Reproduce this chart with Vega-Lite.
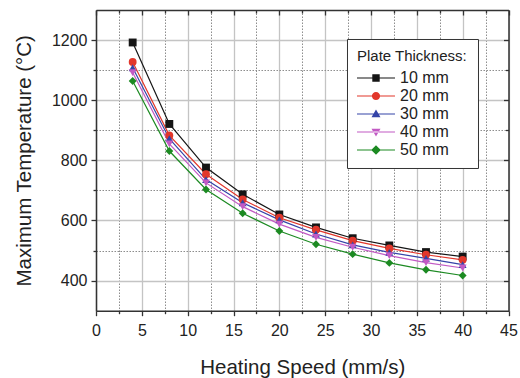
{
  "$schema": "https://vega.github.io/schema/vega-lite/v6.json",
  "width": 412.5,
  "height": 300.7,
  "padding": {"left": 96, "top": 10, "right": 11, "bottom": 67},
  "autosize": {"type": "none"},
  "background": "white",
  "config": {
    "font": "Liberation Sans",
    "view": {"stroke": null},
    "axis": {"labelFont": "Liberation Sans", "titleFont": "Liberation Sans", "titleFontWeight": "normal", "labelColor": "#222222", "titleColor": "#222222"}
  },
  "data": {
    "values": [
      {"speed": 4, "temp": 1192, "thick": "10 mm"}, {"speed": 8, "temp": 921, "thick": "10 mm"}, {"speed": 12, "temp": 776, "thick": "10 mm"}, {"speed": 16, "temp": 687, "thick": "10 mm"}, {"speed": 20, "temp": 620, "thick": "10 mm"}, {"speed": 24, "temp": 577, "thick": "10 mm"}, {"speed": 28, "temp": 541, "thick": "10 mm"}, {"speed": 32, "temp": 517, "thick": "10 mm"}, {"speed": 36, "temp": 495, "thick": "10 mm"}, {"speed": 40, "temp": 480, "thick": "10 mm"},
      {"speed": 4, "temp": 1127, "thick": "20 mm"}, {"speed": 8, "temp": 883, "thick": "20 mm"}, {"speed": 12, "temp": 754, "thick": "20 mm"}, {"speed": 16, "temp": 670, "thick": "20 mm"}, {"speed": 20, "temp": 609, "thick": "20 mm"}, {"speed": 24, "temp": 569, "thick": "20 mm"}, {"speed": 28, "temp": 533, "thick": "20 mm"}, {"speed": 32, "temp": 507, "thick": "20 mm"}, {"speed": 36, "temp": 486, "thick": "20 mm"}, {"speed": 40, "temp": 469, "thick": "20 mm"},
      {"speed": 4, "temp": 1108, "thick": "30 mm"}, {"speed": 8, "temp": 872, "thick": "30 mm"}, {"speed": 12, "temp": 736, "thick": "30 mm"}, {"speed": 16, "temp": 659, "thick": "30 mm"}, {"speed": 20, "temp": 602, "thick": "30 mm"}, {"speed": 24, "temp": 555, "thick": "30 mm"}, {"speed": 28, "temp": 519, "thick": "30 mm"}, {"speed": 32, "temp": 494, "thick": "30 mm"}, {"speed": 36, "temp": 474, "thick": "30 mm"}, {"speed": 40, "temp": 453, "thick": "30 mm"},
      {"speed": 4, "temp": 1092, "thick": "40 mm"}, {"speed": 8, "temp": 855, "thick": "40 mm"}, {"speed": 12, "temp": 725, "thick": "40 mm"}, {"speed": 16, "temp": 646, "thick": "40 mm"}, {"speed": 20, "temp": 588, "thick": "40 mm"}, {"speed": 24, "temp": 544, "thick": "40 mm"}, {"speed": 28, "temp": 511, "thick": "40 mm"}, {"speed": 32, "temp": 483, "thick": "40 mm"}, {"speed": 36, "temp": 460, "thick": "40 mm"}, {"speed": 40, "temp": 442, "thick": "40 mm"},
      {"speed": 4, "temp": 1064, "thick": "50 mm"}, {"speed": 8, "temp": 831, "thick": "50 mm"}, {"speed": 12, "temp": 703, "thick": "50 mm"}, {"speed": 16, "temp": 624, "thick": "50 mm"}, {"speed": 20, "temp": 565, "thick": "50 mm"}, {"speed": 24, "temp": 521, "thick": "50 mm"}, {"speed": 28, "temp": 488, "thick": "50 mm"}, {"speed": 32, "temp": 459, "thick": "50 mm"}, {"speed": 36, "temp": 436, "thick": "50 mm"}, {"speed": 40, "temp": 417, "thick": "50 mm"}
    ]
  },
  "resolve": {"axis": {"x": "independent", "y": "independent"}, "scale": {"shape": "independent", "fill": "independent"}},
  "layer": [
    {
      "mark": {"type": "line", "strokeWidth": 1.2},
      "encoding": {
        "x": {
          "field": "speed", "type": "quantitative",
          "scale": {"domain": [0, 45], "nice": false, "zero": false},
          "axis": {
            "orient": "bottom",
            "values": [0, 2.5, 5, 7.5, 10, 12.5, 15, 17.5, 20, 22.5, 25, 27.5, 30, 32.5, 35, 37.5, 40, 42.5, 45],
            "labelExpr": "datum.value % 5 === 0 ? datum.label : ''",
            "title": "Heating Speed (mm/s)", "titleFontSize": 20.5, "titlePadding": 19,
            "labelFontSize": 16, "labelPadding": 7, "labelFlush": false,
            "grid": true,
            "gridColor": {"condition": {"test": "datum.value % 5 === 0", "value": "#c4c4c4"}, "value": "#8c8c8c"},
            "gridWidth": {"condition": {"test": "datum.value % 5 === 0", "value": 1.3}, "value": 1},
            "gridDash": {"condition": {"test": "datum.value % 5 === 0", "value": []}, "value": [1.5, 1.5]},
            "domainColor": "#333333", "domainWidth": 1.5,
            "tickColor": "#333333", "tickWidth": 1.3,
            "tickSize": {"condition": {"test": "datum.value % 5 === 0", "value": 5}, "value": 3}
          }
        },
        "y": {
          "field": "temp", "type": "quantitative",
          "scale": {"domain": [300, 1300], "nice": false, "zero": false},
          "axis": {
            "orient": "left",
            "values": [400, 500, 600, 700, 800, 900, 1000, 1100, 1200],
            "format": "d",
            "labelExpr": "datum.value % 200 === 0 ? datum.label : ''",
            "title": "Maximum Temperature (°C)", "titleFontSize": 20.5, "titlePadding": 17,
            "labelFontSize": 16, "labelPadding": 4,
            "grid": true,
            "gridColor": {"condition": {"test": "datum.value % 200 === 0", "value": "#c4c4c4"}, "value": "#8c8c8c"},
            "gridWidth": {"condition": {"test": "datum.value % 200 === 0", "value": 1.3}, "value": 1},
            "gridDash": {"condition": {"test": "datum.value % 200 === 0", "value": []}, "value": [1.5, 1.5]},
            "domainColor": "#333333", "domainWidth": 1.5,
            "tickColor": "#333333", "tickWidth": 1.3,
            "tickSize": {"condition": {"test": "datum.value % 200 === 0", "value": 5}, "value": 3}
          }
        },
        "color": {
          "field": "thick", "type": "nominal",
          "scale": {"domain": ["10 mm", "20 mm", "30 mm", "40 mm", "50 mm"], "range": ["#151515", "#e2372b", "#3444a8", "#c25ac4", "#1c8a22"]},
          "legend": null
        },
        "detail": {"field": "thick"}
      }
    },
    {
      "mark": {"type": "point", "filled": true, "opacity": 1, "size": 62},
      "encoding": {
        "x": {"field": "speed", "type": "quantitative", "axis": null},
        "y": {"field": "temp", "type": "quantitative", "axis": null},
        "color": {"field": "thick", "type": "nominal", "legend": null},
        "shape": {
          "field": "thick", "type": "nominal",
          "scale": {"domain": ["10 mm", "20 mm", "30 mm", "40 mm", "50 mm"], "range": ["square", "circle", "triangle-up", "triangle-down", "diamond"]},
          "legend": null
        }
      }
    },
    {
      "mark": {"type": "point", "filled": true, "opacity": 0, "size": 400},
      "encoding": {
        "x": {
          "field": "speed", "type": "quantitative",
          "axis": {
            "orient": "top",
            "values": [0, 2.5, 5, 7.5, 10, 12.5, 15, 17.5, 20, 22.5, 25, 27.5, 30, 32.5, 35, 37.5, 40, 42.5, 45],
            "title": null, "labels": false, "grid": false,
            "domainColor": "#333333", "domainWidth": 1.5,
            "tickColor": "#333333", "tickWidth": 1.3,
            "tickSize": {"condition": {"test": "datum.value % 5 === 0", "value": -5}, "value": -3}
          }
        },
        "y": {
          "field": "temp", "type": "quantitative",
          "axis": {
            "orient": "right",
            "values": [400, 500, 600, 700, 800, 900, 1000, 1100, 1200],
            "title": null, "labels": false, "grid": false,
            "domainColor": "#333333", "domainWidth": 1.5,
            "tickColor": "#333333", "tickWidth": 1.3,
            "tickSize": {"condition": {"test": "datum.value % 200 === 0", "value": -5}, "value": -3}
          }
        },
        "fill": {
          "field": "thick", "type": "nominal",
          "scale": {"domain": ["10 mm", "20 mm", "30 mm", "40 mm", "50 mm"], "range": ["#151515", "#e2372b", "#3444a8", "#c25ac4", "#1c8a22"]},
          "legend": {
            "title": "Plate Thickness:", "orient": "none", "legendX": 251, "legendY": 29,
            "titleFontSize": 15, "titleFontWeight": "normal", "titleColor": "#222222", "titlePadding": 4,
            "labelFontSize": 16, "labelColor": "#222222", "labelOffset": 23,
            "symbolSize": 400, "symbolOpacity": 1, "symbolStrokeWidth": 0, "rowPadding": 0,
            "padding": 10, "strokeColor": "#333333", "fillColor": "white"
          }
        },
        "shape": {
          "field": "thick", "type": "nominal",
          "scale": {
            "domain": ["10 mm", "20 mm", "30 mm", "40 mm", "50 mm"],
            "range": [
              "M-1,-0.055H2.8V0.055H-1Z M0.53,-0.37H1.27V0.37H0.53Z",
              "M-1,-0.055H2.8V0.055H-1Z M1.31,0A0.41,0.41 0 1,1 0.49,0A0.41,0.41 0 1,1 1.31,0Z",
              "M-1,-0.055H2.8V0.055H-1Z M0.9,-0.46L1.35,0.33H0.45Z",
              "M-1,-0.055H2.8V0.055H-1Z M0.9,0.46L1.35,-0.33H0.45Z",
              "M-1,-0.055H2.8V0.055H-1Z M0.9,-0.48L1.38,0L0.9,0.48L0.42,0Z"
            ]
          },
          "legend": {
            "title": "Plate Thickness:", "orient": "none", "legendX": 251, "legendY": 29,
            "titleFontSize": 15, "titleFontWeight": "normal", "titleColor": "#222222", "titlePadding": 4,
            "labelFontSize": 16, "labelColor": "#222222", "labelOffset": 23,
            "symbolSize": 400, "symbolOpacity": 1, "symbolStrokeWidth": 0, "rowPadding": 0,
            "padding": 10, "strokeColor": "#333333", "fillColor": "white"
          }
        }
      }
    }
  ]
}
